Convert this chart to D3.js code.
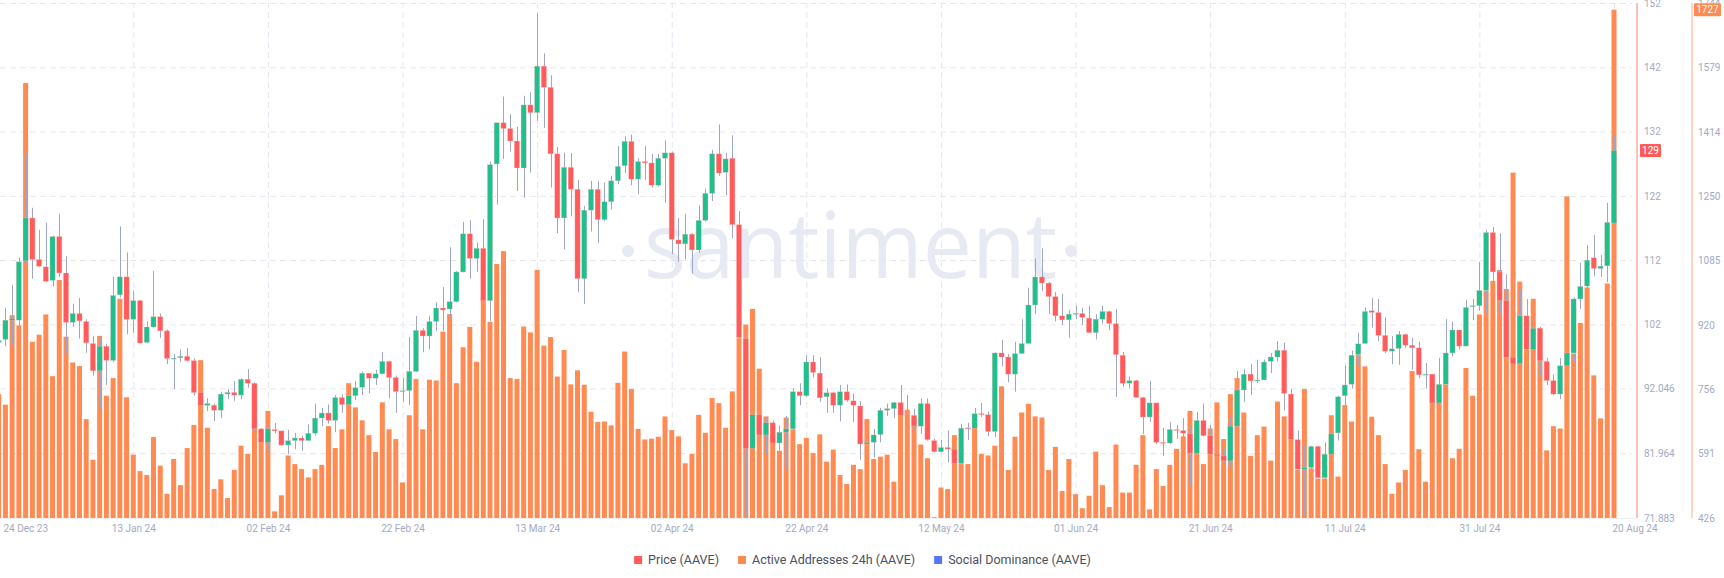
<!DOCTYPE html>
<html>
<head>
<meta charset="utf-8">
<script src="https://cdn.jsdelivr.net/npm/d3@7"></script>
<style>
  html, body { margin: 0; padding: 0; background: #ffffff; }
  svg { display: block; }
</style>
</head>
<body>
<svg id="chart" width="1724" height="578"></svg>
<script>
// ---------------- DATA ----------------
const firstDay = "2023-12-24";
const lastDay = "2024-08-20";

const xTickDates = ["2023-12-24","2024-01-13","2024-02-02","2024-02-22","2024-03-13","2024-04-02",
  "2024-04-22","2024-05-12","2024-06-01","2024-06-21","2024-07-11","2024-07-31","2024-08-20"];
const xTickLabels = ["24 Dec 23","13 Jan 24","02 Feb 24","22 Feb 24","13 Mar 24","02 Apr 24",
  "22 Apr 24","12 May 24","01 Jun 24","21 Jun 24","11 Jul 24","31 Jul 24","20 Aug 24"];

const priceTicks = [71.883, 81.964, 92.046, 102, 112, 122, 132, 142, 152];
const priceTickLabels = ["71.883","81.964","92.046","102","112","122","132","142","152"];
const aaTicks = [426, 591, 756, 920, 1085, 1250, 1414, 1579, 1744];
const aaTickLabels = ["426","591","756","920","1085","1250","1414","1579","1744"];

const seriesNames = ["Price (AAVE)", "Active Addresses 24h (AAVE)", "Social Dominance (AAVE)"];

// daily OHLC price (AAVE), from 24 Dec 2023 to 20 Aug 2024
const priceOpen = [
 99.2,99.66,102.66,102.66,111.9,118.56,112.1,110.95,
 108.85,115.67,110.0,102.3,103.7,102.45,99.03,94.78,98.6,96.4,106.6,109.4,102.8,105.7,99.2,101.6,103.2,101.0,96.7,96.8,97.04,96.36,91.4,89.4,89.43,88.64,91.16,91.42,91.0,93.47,92.84,
 85.75,83.65,85.65,85.44,83.23,83.92,84.33,83.92,85.07,87.43,88.22,87.07,90.63,89.53,90.9,92.21,94.41,93.63,94.31,96.25,93.73,91.6,91.69,94.68,101.08,100.19,102.45,104.55,104.39,
 105.54,110.16,116.1,112.26,113.84,105.7,126.96,133.37,132.47,130.53,126.33,136.15,134.94,142.18,138.88,128.54,118.56,126.44,123.02,109.11,119.77,123.02,118.3,121.08,124.34,126.7,130.48,124.6,127.33,127.12,123.65,
 127.85,128.69,115.15,114.52,116.04,113.58,118.19,122.39,128.54,125.65,127.85,117.51,99.77,82.71,87.96,84.81,86.7,83.55,85.23,85.75,91.53,90.9,96.15,94.42,90.74,91.37,89.43,91.53,90.11,89.32,
 83.39,83.65,84.86,88.64,88.9,89.85,87.96,87.85,86.17,89.69,83.92,82.18,82.86,82.6,80.35,85.91,85.86,88.12,87.96,85.33,97.56,96.93,94.26,97.46,99.03,105.02,109.38,108.43,106.33,103.34,102.71,
 103.6,103.71,102.97,100.71,102.81,104.02,102.13,97.2,92.84,93.26,90.63,87.59,89.79,83.65,83.55,85.65,85.49,84.96,81.97,87.07,84.7,81.81,81.55,80.77,86.17,91.79,94.26,93.21,93.36,96.25,
 96.93,97.98,91.16,84.07,79.45,79.72,83.02,78.14,81.81,85.12,90.9,92.68,97.3,99.03,104.13,103.86,100.29,97.83,98.25,100.45,98.77,98.35,94.15,94.26,89.79,92.68,97.56,101.13,98.62,104.76,104.91,
 107.28,116.3,110.16,105.7,96.88,95.88,103.34,98.09,101.4,96.25,93.26,91.16,95.57,97.56,105.96,107.96,112.37,110.69,111.11,117.78
];
const priceHigh = [
 99.8,104.55,108.17,112.42,128.5,120.14,116.7,117.8,
 115.8,119.2,112.6,105.2,106.1,102.8,100.2,99.9,99.0,109.4,117.25,113.2,107.3,105.8,102.5,110.3,103.7,101.2,97.4,98.1,98.35,96.7,93.1,90.5,89.69,91.53,91.95,93.2,93.63,95.05,93.0,
 85.86,86.17,86.65,85.44,85.6,85.12,84.7,86.44,89.69,89.01,89.53,91.0,91.11,92.21,93.2,94.68,94.41,94.94,97.72,96.36,94.05,93.63,100.03,103.34,101.4,103.34,105.44,107.8,114.0,
 110.3,117.93,118.2,114.73,118.4,127.33,133.4,137.46,134.68,132.73,137.56,138.14,150.42,144.18,140.77,129.59,128.7,128.64,124.44,120.4,124.34,124.34,124.07,125.12,129.74,131.26,131.53,127.85,129.74,128.54,128.54,
 130.63,128.9,118.56,119.24,116.2,120.5,123.13,129.17,133.1,128.69,131.42,119.61,99.93,88.9,90.74,87.43,87.07,86.28,87.75,92.05,92.84,97.2,97.2,96.88,92.05,91.53,92.58,92.68,91.27,90.06,
 87.33,85.75,89.01,89.69,89.95,92.58,91.0,88.9,90.48,90.48,84.28,84.02,85.49,82.6,86.54,86.7,89.01,89.79,88.48,97.67,99.56,97.41,99.3,102.81,107.7,112.26,113.84,108.59,107.01,106.75,104.23,
 104.91,104.55,104.91,103.6,104.91,104.13,104.39,97.72,93.89,93.36,90.74,93.21,89.85,85.91,86.8,86.38,87.43,85.86,88.38,89.69,86.38,82.34,82.6,87.59,94.78,95.1,95.83,96.51,96.51,97.56,
 99.4,99.14,91.95,85.49,83.13,83.13,83.13,83.65,85.75,90.9,95.62,97.93,100.71,104.65,106.12,105.96,103.08,100.19,100.98,100.56,99.93,99.3,95.99,94.26,96.77,102.81,102.45,101.13,105.81,105.96,111.74,
 116.72,117.14,116.2,109.79,98.62,107.54,105.96,103.6,101.61,96.77,94.26,96.77,98.35,106.23,111.58,114.36,115.94,112.79,120.92,131.42
];
const priceLow = [
 99.0,98.6,98.77,99.0,111.5,109.1,111.0,108.6,
 107.9,109.4,97.4,101.6,99.8,97.6,94.05,88.9,92.6,96.15,106.2,100.45,100.7,99.0,99.1,101.5,99.9,95.8,91.95,96.15,96.25,90.9,84.3,88.5,86.91,87.43,90.37,90.11,90.37,92.16,85.33,
 82.86,82.34,85.07,83.13,81.81,82.6,82.34,83.92,84.7,86.17,86.54,85.23,88.27,89.43,90.21,91.0,91.27,92.58,94.26,90.48,88.27,89.95,89.43,94.6,97.67,98.09,100.98,100.98,103.08,
 105.4,110.1,109.11,110.16,98.35,102.55,120.66,127.75,128.9,122.76,121.71,125.65,133.63,132.58,123.29,116.2,113.68,118.82,107.01,105.18,116.46,114.62,118.04,119.87,123.81,125.54,123.65,122.24,124.49,123.29,123.44,
 120.92,112.94,111.74,112.1,109.9,113.15,118.0,121.19,125.12,122.08,115.41,93.89,72.1,80.24,81.29,81.81,81.81,82.34,79.56,84.96,89.43,90.74,93.73,89.95,88.27,88.27,86.91,89.95,86.8,80.92,
 78.93,81.29,83.65,87.75,87.43,87.8,86.8,85.65,84.96,83.92,82.08,82.08,80.5,80.24,80.24,84.02,85.12,87.59,84.6,84.44,95.47,93.0,91.53,97.46,99.03,103.6,107.17,103.6,102.45,101.92,99.93,
 102.81,101.92,100.71,99.66,102.13,101.08,90.74,92.31,92.05,90.63,84.96,86.8,83.39,81.55,83.39,84.18,82.34,77.09,81.81,84.6,81.55,79.72,80.24,79.87,86.17,89.95,91.0,92.84,93.36,94.42,
 96.25,88.64,83.92,79.19,72.37,78.67,78.14,76.04,81.81,83.92,88.64,92.05,95.47,99.03,101.5,99.4,97.56,95.83,95.73,98.35,94.94,93.63,92.05,89.69,85.75,92.68,97.04,98.09,98.62,102.66,104.13,
 103.6,107.01,103.6,96.88,77.35,95.83,97.83,95.62,93.89,92.58,91.0,90.37,94.05,96.25,104.39,105.96,109.48,109.38,108.59,117.78
];
const priceClose = [
 99.5,102.66,102.9,111.74,118.56,112.1,111.05,108.7,
 115.67,110.0,102.3,103.7,102.55,99.14,94.78,98.6,96.4,106.5,109.4,102.8,105.7,99.1,101.6,103.2,101.0,96.7,96.75,97.04,96.36,91.4,89.4,89.7,88.64,91.16,91.42,91.0,93.47,92.84,85.75,
 83.65,85.75,85.44,83.23,83.92,84.33,83.92,85.07,87.43,88.22,87.07,90.63,89.53,90.9,92.16,94.41,93.63,94.31,96.25,93.73,91.53,91.7,94.7,101.08,100.19,102.45,104.55,104.23,105.54,
 110.16,116.1,112.26,113.84,105.7,126.86,133.37,132.47,130.53,126.33,136.15,134.94,142.18,138.88,128.54,118.56,126.44,123.02,109.11,119.77,123.02,118.3,121.08,124.34,126.59,130.48,124.6,127.33,127.12,123.65,127.85,
 128.69,115.25,114.52,116.04,113.58,118.19,122.39,128.54,125.54,127.75,117.51,99.93,82.71,87.96,84.81,86.7,83.55,85.23,85.75,91.53,90.9,96.15,94.52,90.58,91.37,89.43,91.53,90.21,89.43,83.39,
 83.65,84.81,88.64,88.9,89.85,87.85,87.85,86.17,89.69,84.07,82.18,82.86,82.6,80.35,85.86,85.8,88.12,87.96,85.33,97.56,96.93,94.26,97.46,99.03,105.02,109.38,108.43,106.33,103.34,102.71,103.6,
 103.71,103.08,100.71,102.81,104.02,102.13,97.3,92.84,93.26,90.63,87.59,89.79,83.65,83.49,85.65,85.49,85.07,81.97,87.07,84.7,81.81,81.55,80.77,86.17,91.79,94.26,93.21,93.36,96.15,96.93,
 97.98,91.27,84.07,79.45,79.72,83.02,78.14,81.81,84.96,90.74,92.58,97.2,98.98,104.02,103.86,100.29,97.83,98.2,100.45,98.77,98.35,94.15,94.26,89.79,92.68,97.56,101.13,98.62,104.65,104.91,107.28,
 116.3,110.16,105.7,96.88,95.88,103.34,98.09,101.4,96.36,93.26,91.16,95.57,97.56,105.96,107.91,112.0,110.69,111.06,117.88,129.06
];
// daily active addresses 24h (AAVE)
const activeAddresses = [
 743,716,945,919,1539,877,895,947,
 789,1035,890,824,815,679,575,892,739,784,987,735,588,546,536,633,560,488,577,510,605,664,830,657,500,525,477,549,611,590,769,
 651,700,443,484,586,564,551,530,551,562,661,605,653,771,709,676,638,595,722,653,628,517,689,782,653,780,778,903,948,
 771,863,915,826,990,928,1076,1109,784,782,916,901,1061,867,889,788,856,768,804,767,698,672,673,663,772,852,756,654,627,629,634,
 686,651,635,566,590,690,644,733,720,657,750,886,921,961,808,686,666,598,683,653,615,631,592,640,570,601,536,513,562,551,
 679,577,583,588,519,718,703,683,614,579,428,504,500,638,564,564,692,590,586,611,763,549,634,696,718,686,683,549,608,495,577,
 487,451,483,596,510,454,614,491,491,562,638,448,551,508,562,603,635,700,666,564,655,722,628,743,784,696,585,638,660,573,
 724,686,627,549,756,553,527,527,689,532,715,673,843,814,685,638,564,488,517,549,802,602,519,793,765,768,579,603,810,739,947,
 1007,1033,1061,1012,1310,1031,856,987,912,599,661,655,1249,847,925,1016,791,681,1026,1727
];

// ---------------- DRAW ----------------
const W = 1724, H = 578;
const plotTop = 3, plotBottom = 518;
const svg = d3.select("#chart");

const parse = d3.utcParse("%Y-%m-%d");
const days = d3.utcDay.range(parse(firstDay), d3.utcDay.offset(parse(lastDay), 1));
const candles = days.map((d, i) => ({
  date: d, o: priceOpen[i], h: priceHigh[i], l: priceLow[i], c: priceClose[i], aa: activeAddresses[i]
}));

const x = d3.scaleUtc().domain([parse(firstDay), parse(lastDay)]).range([-1.3, 1614]);
const yP = d3.scaleLinear().domain([priceTicks[0], priceTicks[priceTicks.length - 1]]).range([plotBottom, plotTop]);
const yA = d3.scaleLinear().domain([aaTicks[0], aaTicks[aaTicks.length - 1]]).range([plotBottom, plotTop]);

const axisColor = "#A3AAC4";
const gridColor = "#E4E7F0";
const green = "#1FBF8E", red = "#FF5B5B", orange = "#FF8A52", blue = "#5576FF";

// watermark
const wm = svg.append("g").attr("class", "watermark");
wm.append("text")
  .attr("x", 644).attr("y", 278)
  .attr("textLength", 413).attr("lengthAdjust", "spacingAndGlyphs")
  .attr("font-family", "'Open Sans', sans-serif").attr("font-size", 92)
  .attr("fill", "#E8EAF3").text("santiment");
wm.append("circle").attr("cx", 628).attr("cy", 251).attr("r", 6).attr("fill", "#E8EAF3");
wm.append("circle").attr("cx", 1071).attr("cy", 251).attr("r", 6).attr("fill", "#E8EAF3");

// horizontal grid
const hGrid = svg.append("g")
  .call(d3.axisLeft(yP).tickValues(priceTicks).tickSize(-1632).tickFormat(""));
hGrid.select(".domain").remove();
hGrid.selectAll("line").attr("stroke", gridColor).attr("stroke-dasharray", "6,4");

// vertical grid
const vGrid = svg.append("g").attr("transform", `translate(0,${plotBottom})`)
  .call(d3.axisBottom(x).tickValues(xTickDates.map(parse)).tickSize(-(plotBottom - plotTop)).tickFormat(""));
vGrid.select(".domain").remove();
vGrid.selectAll("line").attr("stroke", gridColor).attr("stroke-dasharray", "6,4");

// bottom line
svg.append("line").attr("x1", 0).attr("x2", 1636).attr("y1", plotBottom + 0.5).attr("y2", plotBottom + 0.5)
  .attr("stroke", "#EDEFF5");

// active address bars
const barW = 5;
svg.append("g").selectAll("rect").data(candles).join("rect")
  .attr("x", d => x(d.date) - barW / 2)
  .attr("y", d => yA(d.aa))
  .attr("width", barW)
  .attr("height", d => yA(aaTicks[0]) - yA(d.aa))
  .attr("fill", orange);

// candles
const cg = svg.append("g");
cg.selectAll("line").data(candles).join("line")
  .attr("x1", d => Math.round(x(d.date)) + 0.5).attr("x2", d => Math.round(x(d.date)) + 0.5)
  .attr("y1", d => yP(d.h)).attr("y2", d => yP(d.l))
  .attr("stroke", "#9EA5C6").attr("stroke-width", 1);
cg.selectAll("rect").data(candles).join("rect")
  .attr("x", d => x(d.date) - 2.6)
  .attr("y", d => yP(Math.max(d.o, d.c)))
  .attr("width", 5.2)
  .attr("height", d => Math.max(1, Math.abs(yP(d.o) - yP(d.c))))
  .attr("fill", d => d.c >= d.o ? green : red)
  .attr("stroke", "rgba(255,190,190,0.6)").attr("stroke-width", 0.5);

// x axis labels
const xAxis = svg.append("g").attr("transform", `translate(0,${plotBottom})`)
  .call(d3.axisBottom(x).tickValues(xTickDates.map(parse)).tickSize(0).tickPadding(7)
    .tickFormat((d, i) => xTickLabels[i]));
xAxis.select(".domain").remove();
xAxis.selectAll("text").attr("fill", axisColor).attr("font-family", "Roboto, sans-serif").attr("font-size", 10);
xAxis.selectAll(".tick").filter((d, i) => i === 0).select("text").attr("text-anchor", "start")
  .attr("x", 3 - x(parse(xTickDates[0])));
xAxis.selectAll(".tick").filter((d, i) => i === xTickDates.length - 1).select("text").attr("text-anchor", "start").attr("x", -2);

// price axis
svg.append("line").attr("x1", 1637).attr("x2", 1637).attr("y1", plotTop).attr("y2", plotBottom)
  .attr("stroke", "#FFA8A8").attr("stroke-width", 1.5);
const pAxis = svg.append("g").attr("transform", "translate(1637,0)")
  .call(d3.axisRight(yP).tickValues(priceTicks).tickSize(0).tickPadding(7)
    .tickFormat((d, i) => priceTickLabels[i]));
pAxis.select(".domain").remove();
pAxis.selectAll("text").attr("fill", axisColor).attr("font-family", "Roboto, sans-serif").attr("font-size", 10);

// active addresses axis
svg.append("line").attr("x1", 1692).attr("x2", 1692).attr("y1", plotTop).attr("y2", plotBottom)
  .attr("stroke", "#FFC6AB").attr("stroke-width", 1.5);
const aAxis = svg.append("g").attr("transform", "translate(1692,0)")
  .call(d3.axisRight(yA).tickValues(aaTicks).tickSize(0).tickPadding(6)
    .tickFormat((d, i) => aaTickLabels[i]));
aAxis.select(".domain").remove();
aAxis.selectAll("text").attr("fill", axisColor).attr("font-family", "Roboto, sans-serif").attr("font-size", 10);

// last value badges
const last = candles[candles.length - 1];
function badge(x0, yc, w, fill, label) {
  const g = svg.append("g");
  g.append("rect").attr("x", x0).attr("y", yc - 6.5).attr("width", w).attr("height", 13).attr("fill", fill).attr("rx", 1);
  g.append("text").attr("x", x0 + w / 2).attr("y", yc).attr("dy", "0.35em").attr("text-anchor", "middle")
    .attr("fill", "#fff").attr("font-family", "Roboto, sans-serif").attr("font-size", 10).text(label);
}
badge(1640, yP(last.c), 21, red, d3.format(".0f")(last.c));
badge(1694, Math.max(yA(last.aa), 9.5), 27, orange, String(last.aa));

// legend
const legendColors = [red, orange, blue];
const lg = svg.append("g").attr("transform", "translate(0,560)");
let cx = 0;
const items = [];
seriesNames.forEach((name, i) => {
  const g = lg.append("g");
  g.append("rect").attr("x", 0).attr("y", -4).attr("width", 8).attr("height", 8).attr("fill", legendColors[i]);
  const t = g.append("text").attr("x", 14).attr("y", 0).attr("dy", "0.35em")
    .attr("fill", "#4B5061").attr("font-family", "Roboto, sans-serif").attr("font-size", 12.5).text(name);
  const w = 14 + t.node().getComputedTextLength();
  items.push({ g, w });
});
const gap = 19;
const total = d3.sum(items, d => d.w) + gap * (items.length - 1);
let pos = 862.5 - total / 2;
items.forEach(it => { it.g.attr("transform", `translate(${pos},0)`); pos += it.w + gap; });
</script>
</body>
</html>
